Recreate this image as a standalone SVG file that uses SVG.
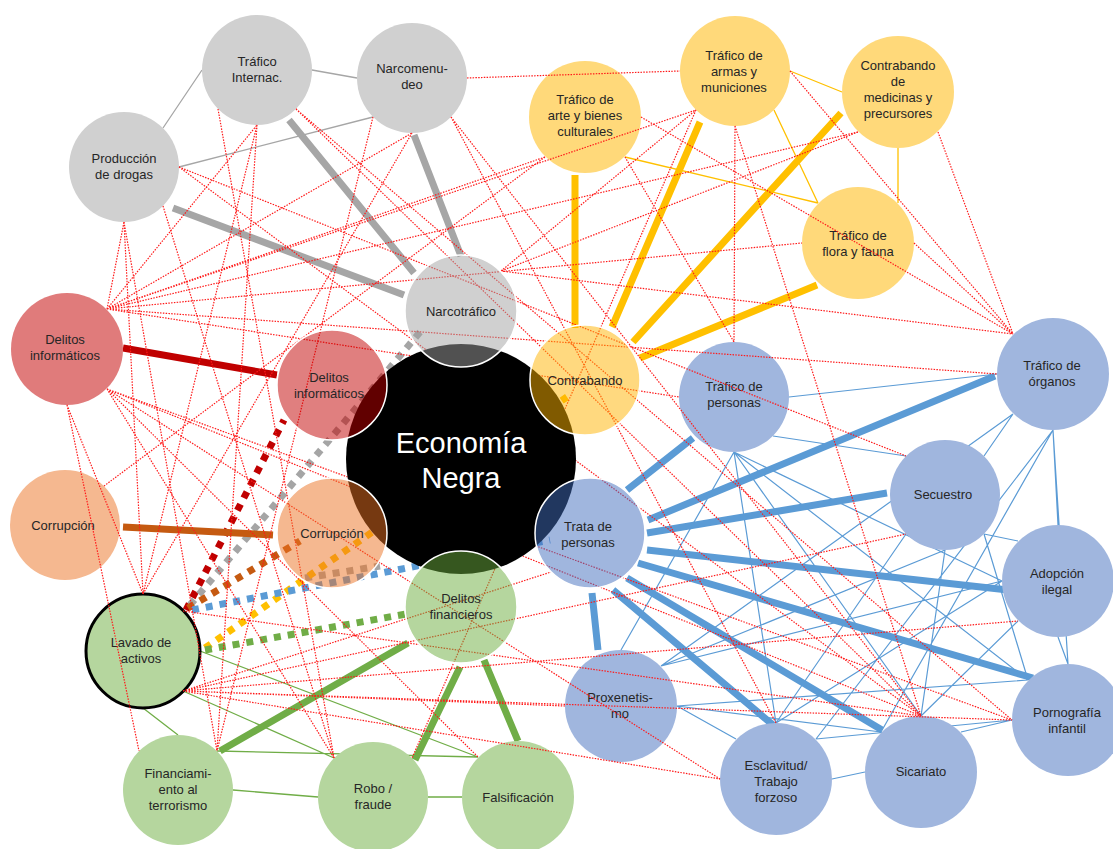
<svg xmlns="http://www.w3.org/2000/svg" width="1113" height="849" viewBox="0 0 1113 849">
<style>
text{font-family:"Liberation Sans",Arial,sans-serif;font-size:13px;fill:#262626;text-anchor:middle}
.en{font-size:29px;fill:#fff}
.red{stroke:#ff1a1a;stroke-width:1.2;stroke-dasharray:1.5 1.3;fill:none}
.dt{stroke-width:7;stroke-dasharray:7 7;fill:none}
.tg{stroke:#a6a6a6;stroke-width:1.3;fill:none}
.ty{stroke:#ffc000;stroke-width:1.3;fill:none}
.tgr{stroke:#70ad47;stroke-width:1.3;fill:none}
.tb{stroke:#5b9bd5;stroke-width:1.2;fill:none}
.k{stroke-width:7;fill:none}
.gy{fill:#d0d0d0}.yl{fill:#ffd97a}.rd{fill:#e07b7b}.or{fill:#f5b890}.gr{fill:#b5d69e}.bl{fill:#a0b6de}
.in{fill-opacity:.5;stroke:#fff;stroke-width:1.5}
</style>
<rect width="1113" height="849" fill="#fff"/>
<g id="dotted-links">
<path class="dt" stroke="#c00000" d="M186,610 L284,420"/>
<path class="dt" stroke="#a5a5a5" d="M190,605 Q300,475 420,332"/>
<path class="dt" stroke="#a5a5a5" d="M305,578 L380,566"/>
<path class="dt" stroke="#c55a11" d="M188,608 L300,541"/>
<path class="dt" stroke="#ffc000" d="M205,648 L567,397"/>
<path class="dt" stroke="#5b9bd5" d="M192,610 L550,540"/>
<path class="dt" stroke="#70ad47" d="M205,650 L406,614"/>
</g>
<g id="thin-links">
<path class="tg" d="M163,128 L202,70 M312,70 L357,78 M179,167 L373,117"/>
<path class="ty" d="M790,71 L842,92 M774,110 L818,203 M625,157 L818,203 M898,148 L898,203"/>
<path class="tgr" d="M143,708 L178,735 M183,691 L334,758 M200,651 L478,757 M217,751 L478,757 M233,790 L318,797 M428,797 L462,797"/>
<path class="tb" d="M789,397 L997,374 M773,436 L906,456 M734,452 L1002,581 M734,452 L1028,680 M734,452 L621,650 M734,452 L776,723 M734,452 L921,716 M1013,414 L984,456 M1053,430 L1058,525 M1053,430 L1068,664 M1013,414 L661,666 M1053,430 L816,739 M1053,430 L881,732 M984,534 L1018,541 M984,534 L1028,680 M945,550 L661,666 M906,534 L776,723 M945,550 L921,716 M1058,637 L1068,664 M1002,581 L661,666 M1002,581 L776,723 M1018,621 L921,716 M1028,680 L677,706 M1012,720 L816,739 M1012,720 L961,732 M677,706 L736,739 M677,706 L881,732 M832,779 L865,772"/>
</g>
<g id="thick-links">
<path class="k" stroke="#a6a6a6" d="M173,208 L404,295 M289,120 L414,273 M414,135 L461,256"/>
<path class="k" stroke="#ffc000" d="M575,175 L575,328 M700,122 L612,327 M841,113 L633,342 M817,285 L640,358"/>
<path class="k" stroke="#c00000" d="M123,348 L277,375"/>
<path class="k" stroke="#c55a11" d="M123,527 L273,535"/>
<path class="k" stroke="#5b9bd5" d="M693,438 L627,490 M995,376 L648,520 M887,493 L647,533 M1008,590 L647,550 M1033,678 L638,563 M882,730 L627,578 M773,725 L613,590 M598,650 L592,593"/>
<path class="k" stroke="#70ad47" d="M408,643 L220,751 M460,667 L415,760 M484,660 L518,741"/>
</g>
<g id="outer-nodes">
<g id="n-trafico-internac"><circle class="gy" cx="257" cy="70" r="55"/><text x="257" y="65.5">Tráfico<tspan x="257" dy="16">Internac.</tspan></text></g>
<g id="n-narcomenudeo"><circle class="gy" cx="412" cy="78" r="55"/><text x="412" y="72.5">Narcomenu-<tspan x="412" dy="16">deo</tspan></text></g>
<g id="n-produccion"><circle class="gy" cx="124" cy="167" r="55"/><text x="124" y="162.5">Producción<tspan x="124" dy="16">de drogas</tspan></text></g>
<g id="n-arte"><circle class="yl" cx="585" cy="117" r="56"/><text x="585" y="103.5">Tráfico de<tspan x="585" dy="16">arte y bienes</tspan><tspan x="585" dy="16">culturales</tspan></text></g>
<g id="n-armas"><circle class="yl" cx="735" cy="71" r="55"/><text x="734" y="59.5">Tráfico de<tspan x="734" dy="16">armas y</tspan><tspan x="734" dy="16">municiones</tspan></text></g>
<g id="n-medicinas"><circle class="yl" cx="898" cy="92" r="56"/><text x="898" y="70">Contrabando<tspan x="898" dy="16">de</tspan><tspan x="898" dy="16">medicinas y</tspan><tspan x="898" dy="16">precursores</tspan></text></g>
<g id="n-flora"><circle class="yl" cx="858" cy="243" r="56"/><text x="858" y="239.5">Tráfico de<tspan x="858" dy="16">flora y fauna</tspan></text></g>
<g id="n-delitos-inf-ext"><circle class="rd" cx="67" cy="349" r="56"/><text x="65" y="343.5">Delitos<tspan x="65" dy="16">informáticos</tspan></text></g>
<g id="n-corrupcion-ext"><circle class="or" cx="65" cy="525" r="55"/><text x="63" y="529.5">Corrupción</text></g>
<g id="n-lavado"><circle class="gr" cx="143" cy="651" r="57" stroke="#000" stroke-width="3"/><text x="141" y="646.5">Lavado de<tspan x="141" dy="16">activos</tspan></text></g>
<g id="n-financiamiento"><circle class="gr" cx="178" cy="790" r="55"/><text x="178" y="777.5">Financiami-<tspan x="178" dy="16">ento al</tspan><tspan x="178" dy="16">terrorismo</tspan></text></g>
<g id="n-robo"><circle class="gr" cx="373" cy="797" r="55"/><text x="373" y="792.5">Robo /<tspan x="373" dy="16">fraude</tspan></text></g>
<g id="n-falsificacion"><circle class="gr" cx="518" cy="797" r="56"/><text x="518" y="801.5">Falsificación</text></g>
<g id="n-trafico-personas"><circle class="bl" cx="734" cy="397" r="55"/><text x="734" y="390.5">Tráfico de<tspan x="734" dy="16">personas</tspan></text></g>
<g id="n-organos"><circle class="bl" cx="1053" cy="374" r="56"/><text x="1052" y="369.5">Tráfico de<tspan x="1052" dy="16">órganos</tspan></text></g>
<g id="n-secuestro"><circle class="bl" cx="945" cy="495" r="55"/><text x="943" y="498.5">Secuestro</text></g>
<g id="n-adopcion"><circle class="bl" cx="1058" cy="581" r="56"/><text x="1057" y="577.5">Adopción<tspan x="1057" dy="16">ilegal</tspan></text></g>
<g id="n-pornografia"><circle class="bl" cx="1068" cy="720" r="56"/><text x="1067" y="716.5">Pornografía<tspan x="1067" dy="16">infantil</tspan></text></g>
<g id="n-proxenetismo"><circle class="bl" cx="621" cy="706" r="56"/><text x="620" y="701.5">Proxenetis-<tspan x="620" dy="16">mo</tspan></text></g>
<g id="n-esclavitud"><circle class="bl" cx="776" cy="779" r="56"/><text x="776" y="769.5">Esclavitud/<tspan x="776" dy="16">Trabajo</tspan><tspan x="776" dy="16">forzoso</tspan></text></g>
<g id="n-sicariato"><circle class="bl" cx="921" cy="772" r="56"/><text x="921" y="775.5">Sicariato</text></g>
</g>
<g id="connectors">
<path class="red" d="M107,309 L257,125 M107,309 L412,133 M107,309 L545,157 M107,309 L696,110 M107,309 L858,132 M107,309 L802,243 M107,309 L997,374 M107,309 L679,397 M107,309 L124,222"/>
<path class="red" d="M107,389 L720,779 M107,389 L921,716 M107,389 L1012,720 M107,389 L334,758 M107,389 L478,757 M67,405 L139,751 M67,405 L143,594"/>
<path class="red" d="M257,125 L143,594 M257,125 L217,751 M218,109 L334,758 M296,109 L921,716 M296,109 L1012,720"/>
<path class="red" d="M412,133 L143,594 M373,117 L217,751 M451,117 L921,716 M451,117 L776,723 M467,78 L680,71"/>
<path class="red" d="M124,222 L143,594 M124,222 L217,751 M163,206 L334,758 M179,167 L906,456 M179,167 L921,716"/>
<path class="red" d="M545,157 L104,486 M625,157 L734,342 M641,117 L1013,334 M735,126 L734,342 M735,126 L921,716 M696,110 L412,758 M790,71 L1013,334 M938,132 L1013,334 M858,132 L501,271 M914,243 L1013,334 M501,271 L1013,334 M501,271 L696,110"/>
<path class="red" d="M183,691 L565,706 M183,691 L720,779 M183,691 L1018,621 M183,691 L1012,720 M183,691 L906,534 M183,691 L551,572 M183,611 L921,716"/>
</g>
<g id="n-economia-negra"><circle cx="461" cy="459" r="115" fill="#000"/></g>
<g id="inner-nodes">
<g id="n-narcotrafico"><circle class="in" cx="461" cy="311" r="56" fill="#a1a1a1"/><text x="461" y="315.5">Narcotráfico</text></g>
<g id="n-contrabando"><circle class="in" cx="585" cy="380" r="55" fill="#ffb300"/><text x="585" y="385">Contrabando</text></g>
<g id="n-delitos-inf-int"><circle class="in" cx="332" cy="385" r="55" fill="#c10000"/><text x="329" y="381.5">Delitos<tspan x="329" dy="16">informáticos</tspan></text></g>
<g id="n-corrupcion-int"><circle class="in" cx="332" cy="533" r="55" fill="#eb7121"/><text x="332" y="537.5">Corrupción</text></g>
<g id="n-delitos-fin"><circle class="in" cx="461" cy="607" r="56" fill="#6bad3d"/><text x="461" y="602.5">Delitos<tspan x="461" dy="16">financieros</tspan></text></g>
<g id="n-trata"><circle class="in" cx="590" cy="533" r="55" fill="#416dbd"/><text x="588" y="530.5">Trata de<tspan x="588" dy="16">personas</tspan></text></g>
</g>
<text class="en" x="461" y="453">Economía<tspan x="461" dy="35">Negra</tspan></text>
</svg>
